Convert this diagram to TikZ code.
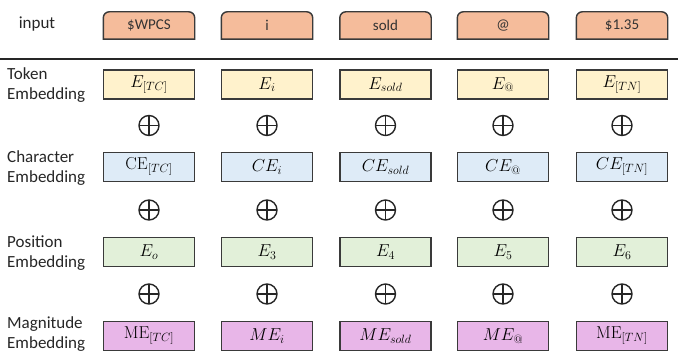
\documentclass[tikz,border=0pt]{standalone}
\usepackage[no-math]{fontspec}
\setmainfont{Carlito}
\usetikzlibrary{backgrounds}
\definecolor{inorange}{HTML}{F5BC9B}
\definecolor{tokyel}{HTML}{FFF2CC}
\definecolor{charblue}{HTML}{DEEBF7}
\definecolor{posgreen}{HTML}{E2F0D9}
\definecolor{magpurp}{HTML}{E8B6E8}
\definecolor{edgegray}{HTML}{3A3A3A}
\tikzset{
  embbox/.style={draw=edgegray, line width=1.4pt, minimum width=91pt, minimum height=29pt, inner sep=0pt, font=\fontsize{16.5}{19}\selectfont},
  inbox/.style={minimum width=91pt, minimum height=27pt, inner sep=0pt, font=\fontsize{15}{18}\selectfont, text=black!80},
  inshape/.style={draw=edgegray, line width=1.4pt, fill=inorange},
  rowlabel/.style={anchor=west, align=left, font=\fontsize{17}{20}\selectfont, text=black!85, inner sep=0pt},
  plus/.style={circle, draw=black!85, line width=1.4pt, minimum size=20pt, inner sep=0pt,
    path picture={\draw[line width=1.4pt, black!85] (path picture bounding box.north) -- (path picture bounding box.south) (path picture bounding box.west) -- (path picture bounding box.east);}},
}
\begin{document}
\begin{tikzpicture}[x=1pt,y=-1pt]
\useasboundingbox (0,0) rectangle (678,352);
\begin{scope}[on background layer]
  \fill[white] (0,0) rectangle (678,352);
\end{scope}
% labels
\node[font=\fontsize{17}{20}\selectfont, text=black!85] (lin) at (37,24) {input};
\node[rowlabel] (ltok) at (7,85) {Token\\Embedding};
\node[rowlabel] (lchar) at (7,168) {Character\\Embedding};
\node[rowlabel] (lpos) at (7,253) {Position\\Embedding};
\node[rowlabel] (lmag) at (7,334) {Magnitude\\Embedding};
% separator
\coordinate (sepL) at (0,59);
\coordinate (sepR) at (678,59);
\draw[line width=2pt, black!85] (sepL) -- (sepR);
% columns
\foreach \i/\x/\w/\t/\c/\p/\m in {
  1/149/{\$WPCS}/{E_{[TC]}}/{\mathrm{CE}_{[TC]}}/{E_o}/{\mathrm{ME}_{[TC]}},
  2/267/{i}/{E_i}/{CE_i}/{E_3}/{ME_i},
  3/385.5/{sold}/{E_{sold}}/{CE_{sold}}/{E_4}/{ME_{sold}},
  4/503/{@}/{E_{@}}/{CE_{@}}/{E_5}/{ME_{@}},
  5/622/{\$1.35}/{E_{[TN]}}/{CE_{[TN]}}/{E_6}/{\mathrm{ME}_{[TN]}}}{
  \node[inbox] (in\i) at (\x,25.5) {\w};
  \begin{scope}[on background layer]
    \path[inshape] (in\i.south west) [rounded corners=6pt] -- (in\i.north west) -- (in\i.north east) [sharp corners] -- (in\i.south east) -- cycle;
  \end{scope}
  \node[embbox, fill=tokyel] (tok\i) at (\x,84.5) {$\t$};
  \node[plus] (pa\i) at (\x,125.5) {};
  \node[embbox, fill=charblue] (chr\i) at (\x,167) {$\c$};
  \node[plus] (pb\i) at (\x,210) {};
  \node[embbox, fill=posgreen] (pos\i) at (\x,252) {$\p$};
  \node[plus] (pc\i) at (\x,294) {};
  \node[embbox, fill=magpurp] (mag\i) at (\x,336) {$\m$};
}
\end{tikzpicture}
\end{document}
